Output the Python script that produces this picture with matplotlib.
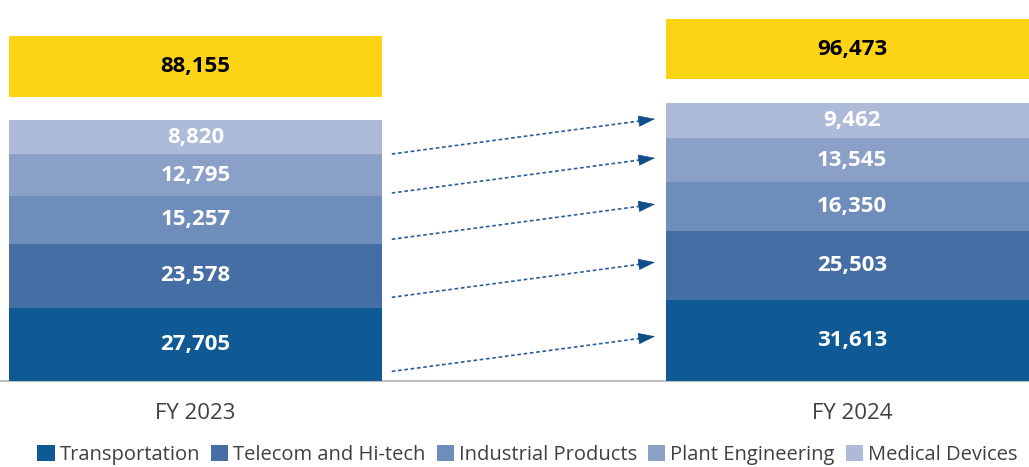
import numpy as np
import matplotlib.pyplot as plt
from matplotlib.patches import Patch

plt.rcParams["font.family"] = ["Open Sans", "DejaVu Sans"]

years = ["FY 2023", "FY 2024"]
segments = ["Transportation", "Telecom and Hi-tech", "Industrial Products",
            "Plant Engineering", "Medical Devices"]
fy2023 = [27705, 23578, 15257, 12795, 8820]
fy2024 = [31613, 25503, 16350, 13545, 9462]
totals = [88155, 96473]

colors = ["#0f5a94", "#456ea5", "#6f8dba", "#8ba0c6", "#adbad8"]
yellow = "#fdd315"
txt_col = "#404040"

# every segment gets a minimum padding so the small ones still fit a label
pad = 7500
gap = 11500      # space between stack and the total box
box_h = 29000    # height of the total box
w = 0.568

fig = plt.figure(figsize=(10.29, 4.67), dpi=100)
ax = fig.add_axes([0, 86 / 467, 1, 381 / 467])

data = [fy2023, fy2024]
x = np.arange(len(years))
bounds = []
for i, vals in enumerate(data):
    bottom = 0
    b = []
    for j, v in enumerate(vals):
        h = v + pad
        ax.bar(x[i], h, bottom=bottom, width=w, color=colors[j], zorder=3)
        ax.text(x[i], bottom + h / 2, f"{v:,}", ha="center", va="center",
                color="white", fontsize=16, fontweight="bold", zorder=4)
        b.append((bottom, h))
        bottom += h
    bounds.append(b)
    # total box
    ax.bar(x[i], box_h, bottom=bottom + gap, width=w, color=yellow, zorder=3)
    ax.text(x[i], bottom + gap + box_h / 2, f"{totals[i]:,}", ha="center",
            va="center", color="black", fontsize=16, fontweight="bold", zorder=4)

# dotted arrows between matching segments
rise = 16900
x0 = x[0] + w / 2 + 0.015
x1 = x[1] - w / 2 - 0.016
head = 0.024
for j in range(len(segments)):
    b1, h1 = bounds[1][j]
    y1 = b1 + 0.55 * h1
    y0 = y1 - rise
    yb = y1 - rise * head / (x1 - x0)
    ax.plot([x0, x1 - head], [y0, yb], linestyle=(0, (2.2, 1.6)),
            color="#2a5d99", lw=1.2, zorder=2)
    ax.annotate("", xy=(x1, y1), xytext=(x1 - head, yb),
                arrowprops=dict(arrowstyle="-|>,head_length=1.1,head_width=0.37",
                                color="#0f4c8a", lw=0.5, shrinkA=0, shrinkB=0))

ax.set_xlim(-195.5 / 656.5, (1029 - 195.5) / 656.5)
ax.set_ylim(0, 183700)
ax.set_xticks(x)
ax.set_xticklabels(years, fontsize=16, color=txt_col)
ax.tick_params(axis="x", length=0, pad=16)
ax.set_yticks([])
for s in ["top", "left", "right"]:
    ax.spines[s].set_visible(False)
ax.spines["bottom"].set_color("#bfbfbf")
ax.spines["bottom"].set_linewidth(1.5)
ax.spines["bottom"].set_zorder(1)

handles = [Patch(facecolor=c, label=l) for c, l in zip(colors, segments)]
fig.legend(handles=handles, loc="center", bbox_to_anchor=(527.5 / 1029, 1 - 455 / 467),
           ncol=5, frameon=False, fontsize=14.5, labelcolor=txt_col,
           handlelength=0.85, handleheight=0.8, handletextpad=0.25,
           columnspacing=0.55, borderpad=0)

fig.savefig("out.png", dpi=100)
